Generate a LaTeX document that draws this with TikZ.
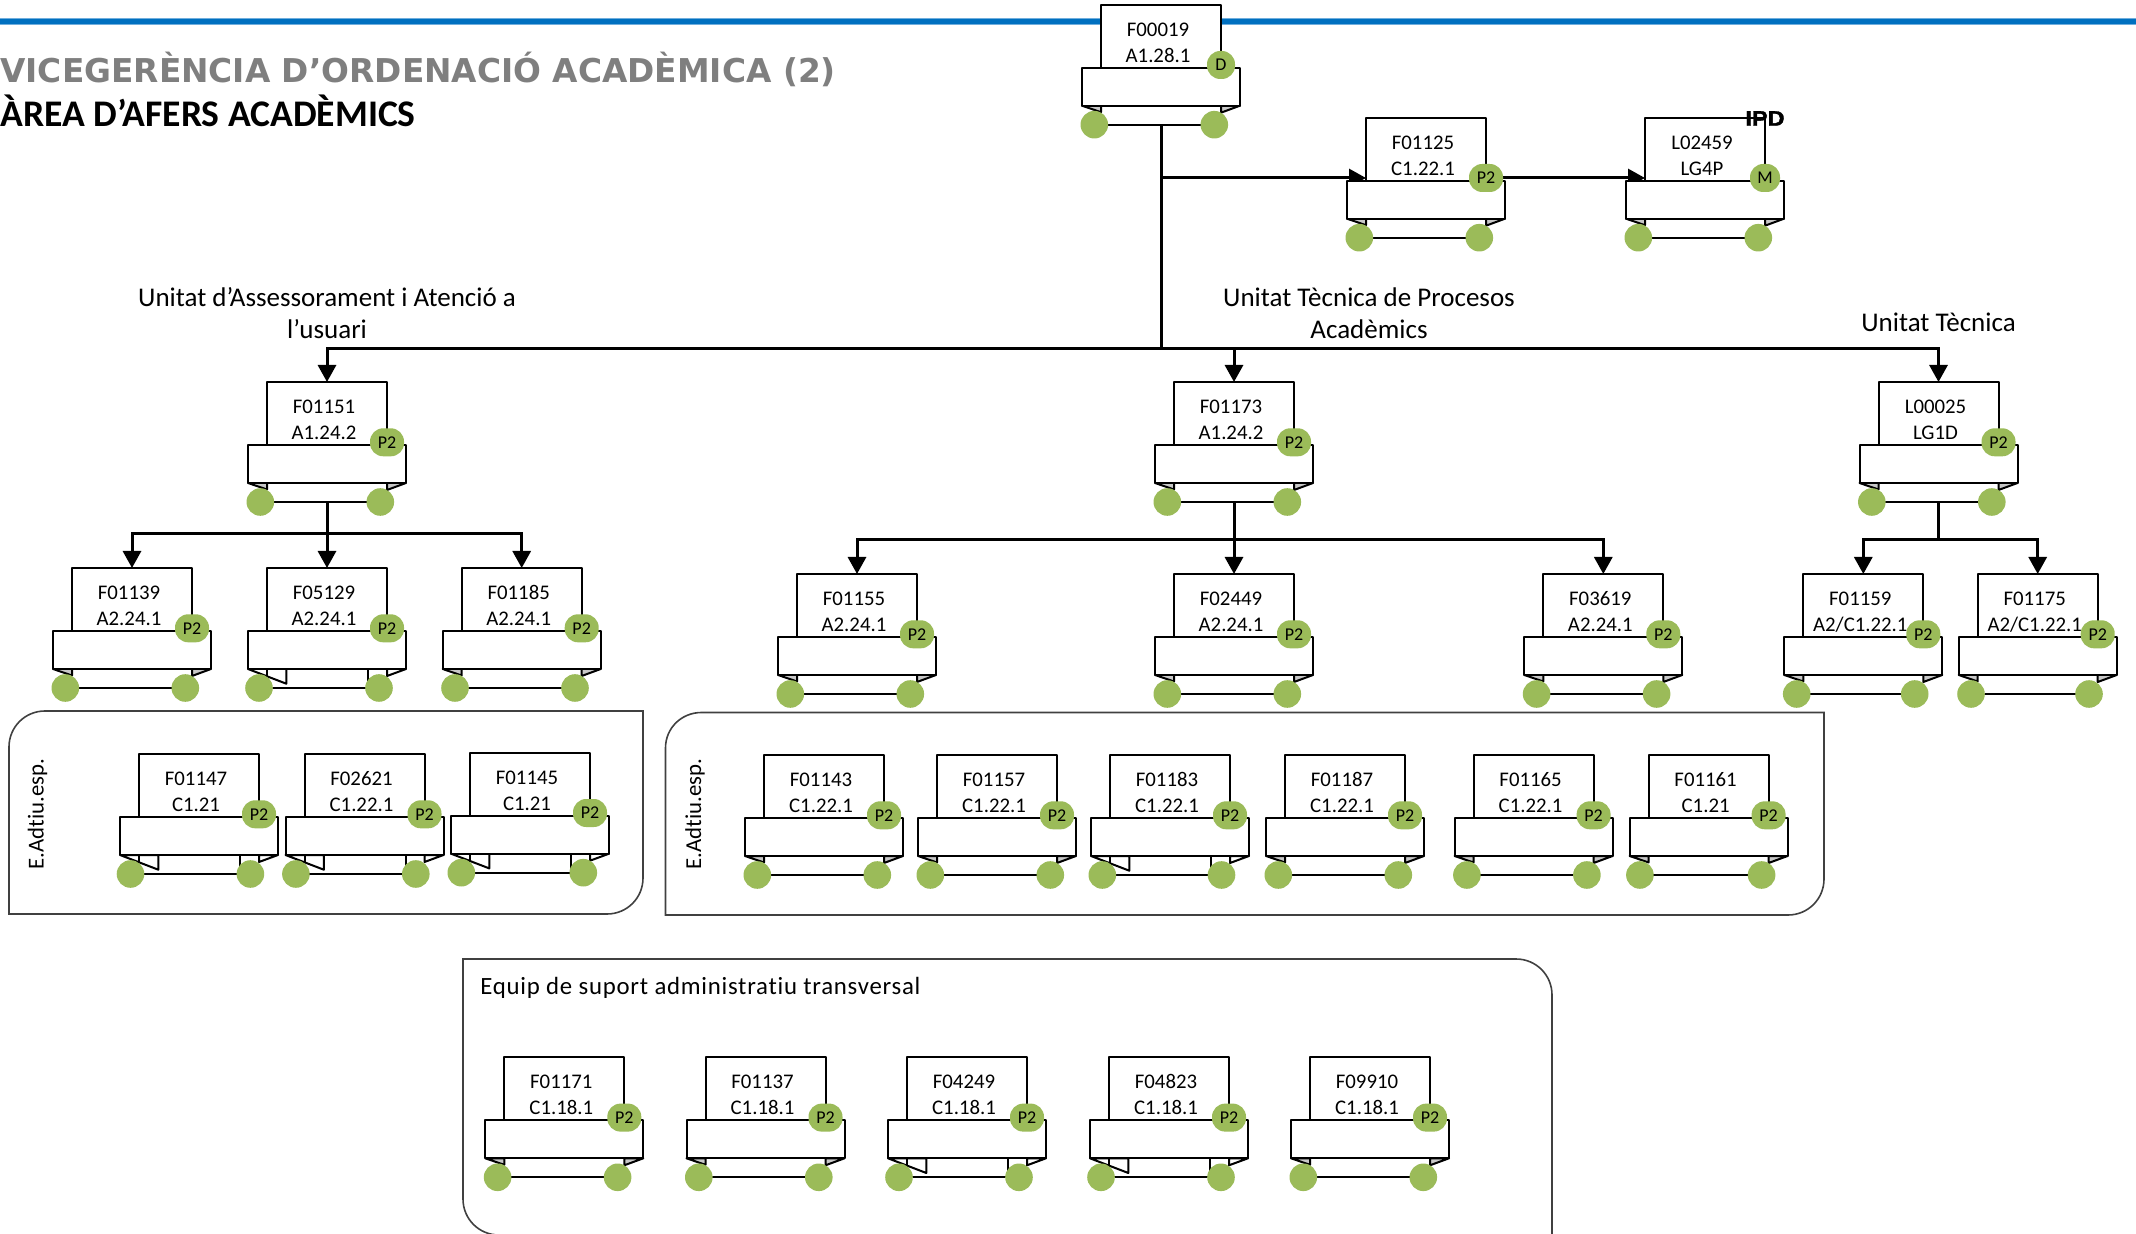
\documentclass[tikz,border=0pt]{standalone}
\usepackage{fontspec}
\setmainfont{Carlito}
\newfontfamily\framefont[LetterSpace=3,Ligatures=NoCommon]{Carlito}
\newfontfamily\elabelfont[Ligatures=NoCommon]{Carlito}
\newfontfamily\headfont{DejaVu Sans}
\newfontfamily\ipdfont[BoldFeatures={FakeBold=1.5}]{Liberation Sans}
\usetikzlibrary{arrows.meta,shapes.geometric}
\pgfdeclarelayer{bg}\pgfdeclarelayer{conn}
\pgfsetlayers{bg,conn,main}
\definecolor{gbadge}{HTML}{9BBB59}
\definecolor{bluebar}{HTML}{0070C0}
\definecolor{lightbar}{HTML}{70AEDD}
\definecolor{foldgray}{HTML}{C8C8C8}
\definecolor{framegray}{HTML}{404040}
\definecolor{titlegray}{HTML}{7F7F7F}
\tikzset{
  x=.5pt,y=-.5pt,
  boxline/.style={draw=black,line width=1pt,line join=round},
  upperbox/.style={boxline,fill=white,rectangle,anchor=north,minimum width=60pt,minimum height=31.5pt,outer sep=0pt,inner sep=0pt},
  band/.style={boxline,fill=white},
  graypart/.style={boxline,fill=foldgray},
  whitepart/.style={boxline,fill=white},
  dotnode/.style={circle,fill=gbadge,minimum size=13.8pt,inner sep=0pt,outer sep=0pt},
  badgenode/.style={rectangle,rounded corners=6.6pt,fill=gbadge,minimum height=14pt,inner sep=0pt,outer sep=0pt,font=\fontsize{9}{10}\selectfont},
  cardtext/.style={inner sep=0pt,anchor=base,font=\fontsize{10.4}{12}\selectfont},
  conn/.style={draw=black,line width=1.5pt},
  arrowconn/.style={conn,-{Triangle[length=8.5pt,width=9pt]}},
  frameline/.style={draw=framegray,line width=.8pt},
  unitlabel/.style={inner sep=0pt,font=\fontsize{13.5}{15}\selectfont},
  framelabel/.style={inner sep=0pt,font=\framefont\fontsize{12.4}{14}\selectfont},
  sidelabel/.style={inner sep=0pt,font=\elabelfont\fontsize{11.4}{13}\selectfont},
}
\def\splitdots#1/#2\relax{\def\dotL{#1}\def\dotR{#2}}
% #1 name, #2 cx, #3 top, #4 dot offsets l/r (empty = default), #5 line2, #6 badge, #7 badge width (px), #8 fold: n or w
\newcommand{\orgcard}[8]{%
  \begin{scope}[shift={(#2,#3)}]
    \if#8w\def\dotL{-68}\def\dotR{52}\else\def\dotL{-66.7}\def\dotR{53.3}\fi
    \def\tmpdots{#4}\ifx\tmpdots\empty\else\splitdots#4\relax\fi
    \coordinate (#1-b) at (0,120);
    \coordinate (#1-i) at (-60,60.3);
    \draw[boxline] (\dotL,120) -- (\dotR,120);
    \if#8w
      \draw[whitepart] (-79,101) -- (-40.7,115.7) -- (-40.7,101) -- cycle;
      \draw[boxline] (-60,101) -- (-60,108.5);
      \draw[boxline] (41,101) -- (41,120);
      \draw[whitepart] (79,101) -- (60,108) -- (60,101) -- cycle;
    \else
      \draw[graypart] (-79,101) -- (-60,107.5) -- (-60,101) -- cycle;
      \draw[graypart] (79,101) -- (60,108) -- (60,101) -- cycle;
    \fi
    \node[upperbox] (#1) at (0,0) {};
    \draw[band] (-79,63) rectangle (79,101);
    \node[dotnode] (#1-dl) at (\dotL,120) {};
    \node[dotnode] (#1-dr) at (\dotR,120) {};
    \node[cardtext] (#1-a) at (-3,31.5) {#1};
    \node[cardtext] (#1-c) at (-3,57.6) {#5};
    \node[badgenode,minimum width=#7*.5pt] (#1-p) at (60,60.3) {#6};
  \end{scope}}
\begin{document}
\begin{tikzpicture}
\clip (0,0) rectangle (2136,1234);
\begin{pgfonlayer}{bg}
  \fill[lightbar] (0,18) rectangle (2136,25.4);
  \fill[bluebar] (0,19) rectangle (2136,24.4);
  \draw[frameline] (9,914) -- (9,747) .. controls (9,727) and (25,711) .. (45,711) -- (643,711) -- (643,878) .. controls (643,898) and (627,914) .. (607,914) -- cycle;
  \draw[frameline] (665.5,915) -- (665.5,748) .. controls (665.5,728) and (681.5,712.5) .. (701.5,712.5) -- (1824,712.5) -- (1824,879) .. controls (1824,899) and (1808,915) .. (1788,915) -- cycle;
  \draw[frameline] (463,959) -- (1516,959) .. controls (1536,959) and (1552,975) .. (1552,995) -- (1552,1235) -- (499,1235) .. controls (479,1235) and (463,1219) .. (463,1199) -- cycle;
\end{pgfonlayer}

\node[anchor=base west,inner sep=0pt,text=titlegray,font=\headfont\bfseries\fontsize{16.4}{18}\selectfont] (title1) at (0,83) {VICEGERÈNCIA D’ORDENACIÓ ACADÈMICA (2)};
\node[anchor=base west,inner sep=0pt,font=\bfseries\fontsize{18.8}{20}\selectfont] (title2) at (0,126.7) {ÀREA D’AFERS ACADÈMICS};

\node[unitlabel] (u1a) at (327,297) {Unitat d’Assessorament i Atenció a};
\node[unitlabel] (u1b) at (327,329) {l’usuari};
\node[unitlabel] (u2a) at (1369,297) {Unitat Tècnica de Procesos};
\node[unitlabel] (u2b) at (1369,329) {Acadèmics};
\node[unitlabel] (u3a) at (1938.5,322) {Unitat Tècnica};

\node[sidelabel,rotate=90] (e1) at (37.5,814) {E.Adtiu.esp.};
\node[sidelabel,rotate=90] (e2) at (695,814) {E.Adtiu.esp.};
\node[framelabel,anchor=base west] (e3) at (480,994) {Equip de suport administratiu transversal};

\orgcard{F00019}{1161}{4.7}{}{A1.28.1}{D}{28}{n}
\orgcard{F01125}{1426}{117.7}{}{C1.22.1}{P2}{34}{n}
\orgcard{L02459}{1705}{117.7}{}{LG4P}{M}{30}{n}
\node[anchor=base,inner sep=0pt,xscale=1.12,font=\ipdfont\bfseries\fontsize{10.5}{11}\selectfont] (ipd) at (1765,125.7) {IPD};

\orgcard{F01151}{327}{382}{}{A1.24.2}{P2}{34}{n}
\orgcard{F01173}{1234}{382}{}{A1.24.2}{P2}{34}{n}
\orgcard{L00025}{1938.5}{382}{}{LG1D}{P2}{34}{n}

\orgcard{F01139}{132}{568}{}{A2.24.1}{P2}{34}{n}
\orgcard{F05129}{327}{568}{}{A2.24.1}{P2}{34}{w}
\orgcard{F01185}{521.7}{568}{}{A2.24.1}{P2}{34}{n}

\orgcard{F01155}{857}{574}{}{A2.24.1}{P2}{34}{n}
\orgcard{F02449}{1234}{574}{}{A2.24.1}{P2}{34}{n}
\orgcard{F03619}{1603.3}{574}{}{A2.24.1}{P2}{34}{n}
\orgcard{F01159}{1863.3}{574}{-66.6/51.4}{A2/C1.22.1}{P2}{34}{n}
\orgcard{F01175}{2037.7}{574}{-66.7/51.3}{A2/C1.22.1}{P2}{34}{n}

\orgcard{F01147}{199}{754}{-68.5/51.4}{C1.21}{P2}{34}{w}
\orgcard{F02621}{364.5}{754}{-68.6/51.3}{C1.22.1}{P2}{34}{w}
\orgcard{F01145}{530}{752.7}{-68.7/53.3}{C1.21}{P2}{34}{w}

\orgcard{F01143}{824}{755}{}{C1.22.1}{P2}{34}{n}
\orgcard{F01157}{997}{755}{}{C1.22.1}{P2}{34}{n}
\orgcard{F01183}{1170}{755}{-67.7/51.5}{C1.22.1}{P2}{34}{w}
\orgcard{F01187}{1345}{755}{}{C1.22.1}{P2}{34}{n}
\orgcard{F01165}{1533.6}{755}{}{C1.22.1}{P2}{34}{n}
\orgcard{F01161}{1708.6}{755}{-68.7/53}{C1.21}{P2}{34}{n}

\orgcard{F01171}{564.3}{1057.3}{}{C1.18.1}{P2}{34}{n}
\orgcard{F01137}{765.5}{1057.3}{}{C1.18.1}{P2}{34}{n}
\orgcard{F04249}{967}{1057.3}{}{C1.18.1}{P2}{34}{w}
\orgcard{F04823}{1169}{1057.3}{}{C1.18.1}{P2}{34}{w}
\orgcard{F09910}{1370}{1057.3}{}{C1.18.1}{P2}{34}{n}

\begin{pgfonlayer}{conn}
  \coordinate (j0) at (1161,349);
  \draw[conn] (F00019-b) -- (j0);
  \draw[arrowconn] (F00019-b |- F01125-i) -- (F01125-i);
  \draw[arrowconn] (F01125-p) -- (L02459-i);
  \draw[arrowconn] (j0) -| (F01151.north);
  \draw[arrowconn] (j0) -| (F01173.north);
  \draw[arrowconn] (j0) -| (L00025.north);

  \coordinate (j1) at (327,534);
  \draw[conn] (F01151-b) -- (j1);
  \draw[arrowconn] (j1) -| (F01139.north);
  \draw[arrowconn] (j1) -- (F05129.north);
  \draw[arrowconn] (j1) -| (F01185.north);

  \coordinate (j2) at (1234,540);
  \draw[conn] (F01173-b) -- (j2);
  \draw[arrowconn] (j2) -| (F01155.north);
  \draw[arrowconn] (j2) -- (F02449.north);
  \draw[arrowconn] (j2) -| (F03619.north);

  \coordinate (j3) at (1938.5,540);
  \draw[conn] (L00025-b) -- (j3);
  \draw[arrowconn] (j3) -| (F01159.north);
  \draw[arrowconn] (j3) -| (F01175.north);
\end{pgfonlayer}
\end{tikzpicture}
\end{document}
